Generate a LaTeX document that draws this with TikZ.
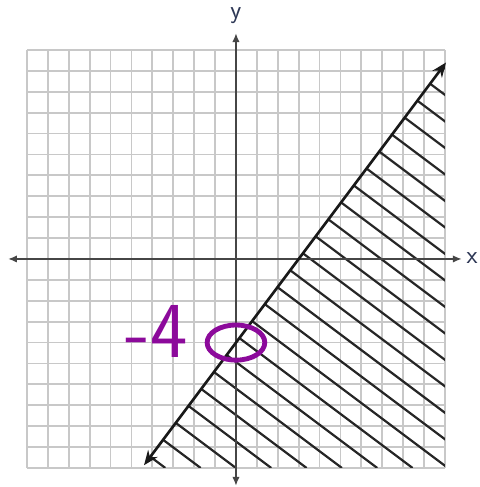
\documentclass[tikz,border=0pt]{standalone}
\usepackage{tikz}
\usetikzlibrary{calc,arrows.meta}
\definecolor{marker}{RGB}{140,10,155}
\definecolor{gridgray}{RGB}{200,200,200}
\definecolor{axisgray}{RGB}{70,70,70}
\definecolor{labelblue}{RGB}{45,55,85}

\begin{document}
\begin{tikzpicture}[x=0.5cm,y=0.5cm]
  % Parameters

\def\N{10}       % half width of the grid
\def\D{1.69}     % hatch spacing along the bottom edge

 \useasboundingbox (-11.29,-10.91) rectangle (11.67,12.39);

 \coordinate (G1) at (-\N, -\N);
 \coordinate (G2) at (\N, \N);
 \coordinate (XL) at (-10.9, 0);
 \coordinate (XR) at (10.8, 0);
 \coordinate (YB) at (0, -10.85);
 \coordinate (YT) at (0, 10.8);
 \coordinate (P) at (-4.4, -9.87);
 \coordinate (Q) at (10.05, 9.4);
 \coordinate (BR) at (\N, -\N);
 \coordinate (Yint) at (0, -4);

  % Grid
  \draw[gridgray, line width=1.2pt, step=0.5cm] (G1) grid (G2);

  % Hatching under the boundary
  \begin{scope}
    \clip (-4.5,-\N) -- (BR) -- (10,9.333) -- cycle;
    \foreach \k in {-2,...,22}
      \draw[black!85, line width=1.5pt] ({\D*\k},-\N) -- +(-40,30);
  \end{scope}

  % Axes
  \draw[axisgray, line width=1pt, {Latex[length=6pt,width=5pt]}-{Latex[length=6pt,width=5pt]}] (XL) -- (XR);
  \draw[axisgray, line width=1pt, {Latex[length=6pt,width=5pt]}-{Latex[length=6pt,width=5pt]}] (YB) -- (YT);

  % Boundary line
  \draw[black!90, line width=1.8pt, {Stealth[length=10pt,width=8pt]}-{Stealth[length=10pt,width=8pt]}] (P) -- (Q);

\node[labelblue, font=\sffamily\LARGE] (xlab) at (11.3,0.05) {x};
\node[labelblue, font=\sffamily\LARGE] (ylab) at (0,11.65) {y};

  % Handwritten mark
  \draw[marker, line width=3.3pt] (Yint) ellipse [x radius=1.38, y radius=0.84];
\node[marker, font=\sffamily\fontsize{54}{54}\selectfont, inner sep=0pt] (mark) at (-3.8,-3.45) {-4};

  \end{tikzpicture}
\end{document}
